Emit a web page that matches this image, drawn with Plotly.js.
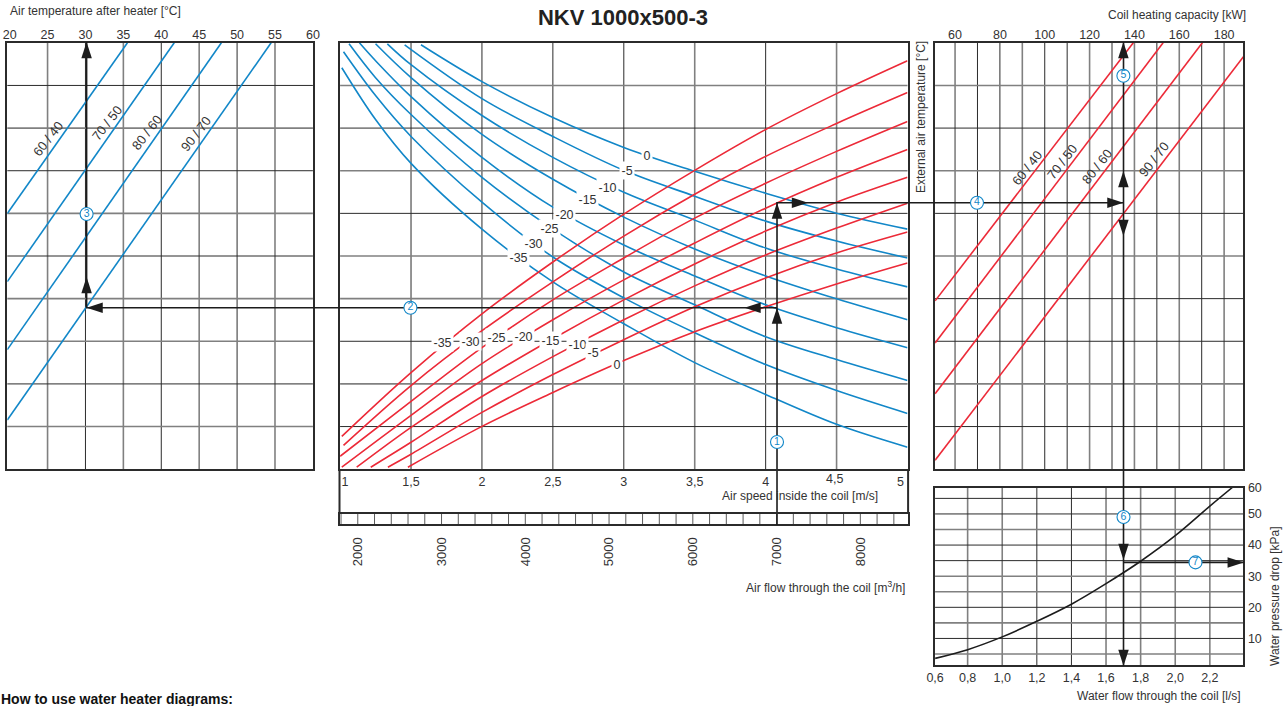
<!DOCTYPE html>
<html><head><meta charset="utf-8">
<script src="https://cdn.plot.ly/plotly-3.0.1.min.js"></script>
<style>html,body{margin:0;padding:0;background:#fff;overflow:hidden}</style>
</head><body><div id="chart" style="width:1288px;height:706px"></div>
<script>
// ---- read values -------------------------------------------------------
const airTempTicks = [20,25,30,35,40,45,50,55,60];
const capacityTicks = [60,80,100,120,140,160,180];
const speedTickVals = [1.035,1.5,2,2.5,3,3.5,4,4.95];
const speedTickText = ['1','1,5','2','2,5','3','3,5','4','5'];
const flowTicks = [2000,3000,4000,5000,6000,7000,8000];
const waterTickVals = [0.612,0.8,1.0,1.2,1.4,1.6,1.8,2.0,2.2];
const waterTickText = ['0,6','0,8','1,0','1,2','1,4','1,6','1,8','2,0','2,2'];
const dropTickVals = [10,20,30,40,50,58.5];
const dropTickText = ['10','20','30','40','50','60'];

// air-side curves of the centre panel: speed [m/s], relative height
const blue0X  = [1.57,2,2.5,3,3.5,4,4.5,5];            const blue0Y  = [426,389,353,323,299,277,257,241];
const blue5X  = [1.455,2,2.5,3,3.5,4,4.5,5];           const blue5Y  = [426,372,334,300,274,249,229,212];
const blue10X = [1.333,1.5,2,2.5,3,3.5,4,4.5,5];       const blue10Y = [427,406,355,313,278,250,222,201,183];
const blue15X = [1.25,1.5,2,2.5,3,3.5,4,4.5,5];        const blue15Y = [427,393,336,291,253,221,194,171,150];
const blue20X = [1.136,1.25,1.5,2,2.5,3,3.5,4,4.5,5];  const blue20Y = [428,410,374,313,263,225,194,165,142,122];
const blue25X = [1.063,1.25,1.5,2,2.5,3,3.5,4,4.5,5];  const blue25Y = [427,393,356,293,241,198,165,133,110,89];
const blue30X = [1.024,1.25,1.5,2,2.5,3,3.5,4,4.5,5];  const blue30Y = [419,375,334,268,213,172,137,105,79,56];
const blue35X = [1.012,1.25,1.5,2,2.5,3,3.5,4,4.5,5];  const blue35Y = [403,351,307,241,188,146,107,75,45,22];

const red0X   = [1.478,2,2.5,3,3.5,4,4.5,5];           const red0Y   = [2,43,77,109,138,163,186,207];
const red5X   = [1.337,1.5,2,2.5,3,3.5,4,4.5,5];       const red5Y   = [2,15,57,95,130,163,192,217,238];
const red10X  = [1.216,1.5,2,2.5,3,3.5,4,4.5,5];       const red10Y  = [2,27,73,113,150,184,215,242,267];
const red15X  = [1.117,1.5,2,2.5,3,3.5,4,4.5,5];       const red15Y  = [2,42,89,131,170,206,239,268,293];
const red20X  = [1.012,1.5,2,2.5,3,3.5,4,4.5,5];       const red20Y  = [2,54,106,150,190,227,262,293,321];
const red25X  = [1,1.5,2,2.5,3,3.5,4,4.5,5];           const red25Y  = [13,68,122,170,212,252,287,319,349];
const red30X  = [1.024,1.5,2,2.5,3,3.5,4,4.5,5];       const red30Y  = [24,84,139,188,234,276,314,347,378];
const red35X  = [1.012,1.5,2,2.5,3,3.5,4,4.5,5];       const red35Y  = [33,97,156,208,256,300,341,377,410];

// water regime lines: air temperature after heater
const air6040X = [19.69,35.54]; const air6040Y = [256.7,428];
const air7050X = [19.69,41.71]; const air7050Y = [188.3,428];
const air8060X = [19.69,47.93]; const air8060Y = [120,428];
const air9070X = [19.69,54.49]; const air9070Y = [49.3,428];
// water regime lines: coil heating capacity
const cap6040X = [51.1,139.5];  const cap6040Y = [169,428];
const cap7050X = [51.1,152.8];  const cap7050Y = [126.7,428];
const cap8060X = [51.1,170.3];  const cap8060Y = [75.7,428];
const cap9070X = [51.1,188.6];  const cap9070Y = [9,414];
// pressure drop
const waterFlow = [0.612,0.8,1.0,1.2,1.4,1.6,1.8,2.0,2.2,2.33];
const waterDrop = [3.6,6.4,10.5,15.5,21,27.6,34.8,43,52.5,58.5];

// worked example
const routeFlow = 7000, routeAir = 30.2, routeCapacity = 135, routeWater = 1.7, routeDrop = 34.4;
const routeLowRow = 162.3, routeHighRow = 267.3;

// ---- geometry ----------------------------------------------------------
const W = 1288, H = 706, inset = 0.8;
const A = {l:6.5,  r:313.7, t:42,  b:470, xr:[19.69,60],   yr:[0,428]};
const M = {l:339.3,r:908.3, t:42,  b:470, xr:[1,5],        yr:[0,428]};
const C = {l:934.3,r:1244.2,t:42,  b:470, xr:[51.1,188.6], yr:[0,428]};
const D = {l:934.3,r:1244.2,t:486.7,b:666,xr:[0.612,2.394],yr:[1.4,58.5]};
const S = {l:339.3,r:908.3, t:513, b:525, xr:[1789,8563],  yr:[0,1]};
const xd = p => [(p.l+inset)/W, (p.r-inset)/W];
const yd = p => [1-(p.b-inset)/H, 1-(p.t+inset)/H];
const xp = (p,v) => p.l+(v-p.xr[0])/(p.xr[1]-p.xr[0])*(p.r-p.l);
const yp = (p,v) => p.b-(v-p.yr[0])/(p.yr[1]-p.yr[0])*(p.b-p.t);

const BLUE='#1287c8', RED='#ec2a38', DARK='#2b2b2b', GRAY='#808080', INK='#1c1c1c', TXT='#333';
const FONT='"Liberation Sans", Arial, sans-serif';

const traces = [];
function curve(x,y,color,ax,ay,shape){
  traces.push({x,y,xaxis:ax,yaxis:ay,mode:'lines',hoverinfo:'skip',
    line:{color,width:1.6,shape:shape||'linear',smoothing:1}});
}
[[air6040X,air6040Y],[air7050X,air7050Y],[air8060X,air8060Y],[air9070X,air9070Y]]
  .forEach(c=>curve(c[0],c[1],BLUE,'x','y'));
[[blue0X,blue0Y],[blue5X,blue5Y],[blue10X,blue10Y],[blue15X,blue15Y],
 [blue20X,blue20Y],[blue25X,blue25Y],[blue30X,blue30Y],[blue35X,blue35Y]]
  .forEach(c=>curve(c[0],c[1],BLUE,'x2','y2','spline'));
[[red0X,red0Y],[red5X,red5Y],[red10X,red10Y],[red15X,red15Y],
 [red20X,red20Y],[red25X,red25Y],[red30X,red30Y],[red35X,red35Y]]
  .forEach(c=>curve(c[0],c[1],RED,'x2','y2','spline'));
[[cap6040X,cap6040Y],[cap7050X,cap7050Y],[cap8060X,cap8060Y],[cap9070X,cap9070Y]]
  .forEach(c=>curve(c[0],c[1],RED,'x3','y3'));
curve(waterFlow,waterDrop,INK,'x4','y4','spline');

// worked-example route on a page-wide overlay, placed via the panels' scales
const fx = xp(S,routeFlow), ax = xp(A,routeAir), cx = xp(C,routeCapacity), wx = xp(D,routeWater);
const hi = yp(M,routeHighRow), lo = yp(M,routeLowRow), dy = yp(D,routeDrop);
function route(x,y){traces.push({x,y,xaxis:'x6',yaxis:'y6',mode:'lines',hoverinfo:'skip',
  line:{color:INK,width:1.6}});}
route([fx,fx,cx],[S.b,hi,hi]);
route([fx,ax,ax],[lo,lo,A.t]);
route([wx,wx],[A.t,D.b]);
route([wx,D.r],[dy,dy]);
const heads = [
  [fx,lo,0],[fx,hi,0],[808,hi,90],[cx,hi,90],[744.5,lo,270],[ax,lo,270],
  [ax,A.t,0],[ax,277,0],[cx,A.t,0],[cx,171,0],[cx,236,180],[wx,560,180],[wx,D.b,180],[D.r-0.5,dy,90]
];
traces.push({x:heads.map(h=>h[0]),y:heads.map(h=>h[1]),xaxis:'x6',yaxis:'y6',mode:'markers',hoverinfo:'skip',
  marker:{symbol:'arrow',size:17,color:INK,angle:heads.map(h=>h[2]),line:{width:0}}});
const badges = [[fx,442,'1'],[xp(M,1.5),lo,'2'],[ax,214,'3'],[977,hi,'4'],[cx,75.7,'5'],[wx,517,'6'],[1195.5,dy,'7']];
traces.push({x:badges.map(b=>b[0]),y:badges.map(b=>b[1]),text:badges.map(b=>b[2]),xaxis:'x6',yaxis:'y6',
  mode:'markers+text',textposition:'middle center',hoverinfo:'skip',
  textfont:{family:FONT,size:10.5,color:BLUE},
  marker:{symbol:'circle',size:13,color:'#fff',line:{color:BLUE,width:1.1}}});

// ---- grid lines --------------------------------------------------------
const shapes = [];
function vGrid(ax,vals,color,width){vals.forEach(v=>shapes.push({type:'line',layer:'below',xref:ax,yref:(ax==='x'?'y':'y'+ax.slice(1))+' domain',
  x0:v,x1:v,y0:0,y1:1,line:{color,width}}));}
function hGrid(ay,vals,color,width){vals.forEach(v=>shapes.push({type:'line',layer:'below',yref:ay,xref:(ay==='y'?'x':'x'+ay.slice(1))+' domain',
  y0:v,y1:v,x0:0,x1:1,line:{color,width}}));}
vGrid('x',[30,40,50],DARK,1);              vGrid('x',[25,35,45,55],GRAY,1.6);
hGrid('y',[385.2,299.6,214,85.6],DARK,1);  hGrid('y',[342.4,256.8,171.2,128.4,42.8],GRAY,1.6);
vGrid('x2',[1.5,2,2.5,3,4],DARK,1);        vGrid('x2',[3.5,4.5],GRAY,1.6);
hGrid('y2',[342.4,256.8,128.4,42.8],DARK,1); hGrid('y2',[385.2,299.6,214,171.2,85.6],GRAY,1.6);
vGrid('x3',[70,80,100,110,130,150,170],DARK,1); vGrid('x3',[60,90,120,140,160,180],GRAY,1.6);
hGrid('y3',[342.4,256.8,171.2,128.4,42.8],DARK,1); hGrid('y3',[385.2,299.6,214,85.6],GRAY,1.6);
vGrid('x4',[1.2,1.4],DARK,1);              vGrid('x4',[0.8,1.0,1.6,1.8,2.0,2.2],GRAY,1.6);
hGrid('y4',[55,50,40,35,20,10],DARK,1);    hGrid('y4',[45,30,25,15,5],GRAY,1.6);
const stripCells=[];for(let f=1800;f<=8400;f+=200)stripCells.push(f);
vGrid('x5',stripCells,'#5a5a5a',1);
// frame around the speed scale
shapes.push({type:'rect',xref:'paper',yref:'paper',x0:(M.l+0.2)/W,x1:(M.r-0.2)/W,y0:1-S.t/H,y1:1-M.b/H,line:{color:DARK,width:2}});

// ---- text --------------------------------------------------------------
const annotations = [];
function note(text,xref,x,yref,y,opt){annotations.push(Object.assign({text,xref,x,yref,y,showarrow:false,
  font:{family:FONT,size:12,color:TXT},xanchor:'center',yanchor:'middle'},opt||{}));}
function page(text,px,py,opt){note(text,'paper',px/W,'paper',1-py/H,opt);}
const curveLabel = {bgcolor:'#fff',borderpad:1.5,font:{family:FONT,size:12.5,color:TXT}};
[['0',3.163,315],['-5',3.022,300],['-10',2.882,283],['-15',2.741,271],['-20',2.58,256],['-25',2.474,242],['-30',2.362,227],['-35',2.256,212],
 ['-35',1.722,127],['-30',1.919,128],['-25',2.102,132],['-20',2.292,133],['-15',2.481,129],['-10',2.671,125],['-5',2.784,117],['0',2.952,105]]
 .forEach(l=>note(l[0],'x2',l[1],'y2',l[2],curveLabel));
const slanted = {textangle:-52,font:{family:FONT,size:13,color:TXT}};
[['60 / 40',25.1,332],['70 / 50',32.9,348],['80 / 60',38.1,338],['90 / 70',44.6,337]].forEach(l=>note(l[0],'x',l[1],'y',l[2],slanted));
[['60 / 40',92.3,303],['70 / 50',107.8,309],['80 / 60',123.3,304],['90 / 70',148.6,311]].forEach(l=>note(l[0],'x3',l[1],'y3',l[2],slanted));
page('4,5',834,479,{font:{family:FONT,size:12.5,color:TXT}});
const small = {font:{family:FONT,size:12,color:TXT}};
page('Air temperature after heater [°C]',8,11,Object.assign({xanchor:'left'},small));
page('Coil heating capacity [kW]',1248,15,Object.assign({xanchor:'right'},small));
page('External air temperature [°C]',921,117,Object.assign({textangle:-90},small));
page('Air speed inside the coil [m/s]',880,496,Object.assign({xanchor:'right'},small));
page('Air flow through the coil [m<sup>3</sup>/h]',907,587,Object.assign({xanchor:'right'},small));
page('Water pressure drop [kPa]',1275,596,Object.assign({textangle:-90},small));
page('Water flow through the coil [l/s]',1243,696,Object.assign({xanchor:'right'},small));
page('<b>How to use water heater diagrams:</b>',-1,699,{xanchor:'left',font:{family:FONT,size:14,color:'#111'}});

// ---- axes --------------------------------------------------------------
const frame = {showline:true,mirror:true,linecolor:DARK,linewidth:2,showgrid:false,zeroline:false,fixedrange:true};
const tickFont = {family:FONT,size:12.5,color:TXT};
const blankY = p => Object.assign({},frame,{domain:yd(p),range:p.yr,showticklabels:false,ticks:''});
const layout = {
  width:W,height:H,margin:{l:0,r:0,t:0,b:0,pad:0},autosize:false,showlegend:false,hovermode:false,
  paper_bgcolor:'#fff',plot_bgcolor:'rgba(0,0,0,0)',
  title:{text:'<b>NKV 1000x500-3</b>',x:623/W,xref:'container',y:1-17/H,yref:'container',xanchor:'center',yanchor:'middle',
    font:{family:FONT,size:22,color:'#222'}},
  xaxis:Object.assign({},frame,{domain:xd(A),range:A.xr,side:'top',anchor:'y',tickmode:'array',tickvals:airTempTicks,ticktext:airTempTicks.map(String),tickfont:tickFont,ticks:'',tickangle:0,ticklabelstandoff:-3}),
  yaxis:Object.assign(blankY(A),{anchor:'x'}),
  xaxis2:Object.assign({},frame,{domain:xd(M),range:M.xr,anchor:'y2',tickmode:'array',tickvals:speedTickVals,ticktext:speedTickText,tickfont:tickFont,ticks:'',tickangle:0}),
  yaxis2:Object.assign(blankY(M),{anchor:'x2'}),
  xaxis3:Object.assign({},frame,{domain:xd(C),range:C.xr,side:'top',anchor:'y3',tickmode:'array',tickvals:capacityTicks,ticktext:capacityTicks.map(String),tickfont:tickFont,ticks:'',tickangle:0,ticklabelstandoff:-3}),
  yaxis3:Object.assign(blankY(C),{anchor:'x3'}),
  xaxis4:Object.assign({},frame,{domain:xd(D),range:D.xr,anchor:'y4',tickmode:'array',tickvals:waterTickVals,ticktext:waterTickText,tickfont:tickFont,ticks:'',tickangle:0}),
  yaxis4:Object.assign({},frame,{domain:yd(D),range:D.yr,anchor:'x4',side:'right',tickmode:'array',tickvals:dropTickVals,ticktext:dropTickText,tickfont:tickFont,ticks:''}),
  xaxis5:Object.assign({},frame,{domain:xd(S),range:S.xr,anchor:'y5',tickmode:'array',tickvals:flowTicks,ticktext:flowTicks.map(String),tickfont:{family:FONT,size:13,color:TXT},tickangle:-90,ticks:'outside',ticklen:6,tickcolor:'rgba(0,0,0,0)'}),
  yaxis5:Object.assign(blankY(S),{anchor:'x5'}),
  xaxis6:{domain:[0,1],range:[0,W],anchor:'y6',visible:false,fixedrange:true},
  yaxis6:{domain:[0,1],range:[H,0],anchor:'x6',visible:false,fixedrange:true},
  shapes,annotations
};
Plotly.newPlot('chart',traces,layout,{displayModeBar:false,staticPlot:true});
</script></body></html>
